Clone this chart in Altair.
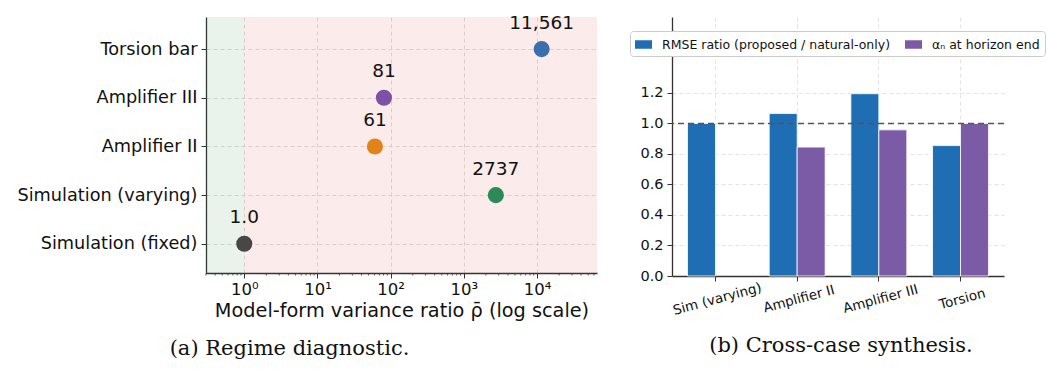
import altair as alt
import pandas as pd

# ---------------- Panel (a): regime diagnostic ----------------
cases = ["Simulation (fixed)", "Simulation (varying)", "Amplifier II", "Amplifier III", "Torsion bar"]
rho = [1.0, 2737, 61, 81, 11561]
rho_text = ["1.0", "2737", "61", "81", "11,561"]
point_colors = ["#474747", "#2b8a57", "#e3821b", "#7b52a8", "#3a6fab"]

regime_names = ["natural", "model-form"]
regime_lo = [0.3, 1.0]
regime_hi = [1.0, 66000]
regime_colors = ["#2e8b3e", "#d83a3a"]

x_domain = [0.3, 66000]
x_major = [1, 10, 100, 1000, 10000]
sup = ["⁰", "¹", "²", "³", "⁴"]

# ---------------- Panel (b): cross-case synthesis ----------------
bar_cases = ["Sim (varying)", "Amplifier II", "Amplifier III", "Torsion"]
rmse_ratio = [1.0, 1.065, 1.195, 0.855]
alpha_end = [None, 0.845, 0.958, 1.0]
series_names = ["RMSE ratio (proposed / natural-only)", "αₙ at horizon end"]
series_colors = ["#1f6db3", "#7c5ba6"]
y_ticks = [0, 0.2, 0.4, 0.6, 0.8, 1.0, 1.2]
ref_line = [1.0]

W1, H1 = 391, 256
W2, H2 = 332, 259
FONT = "DejaVu Sans"

# minor tick positions for the log axis
minor = []
for e in range(-1, 5):
    for m in range(2, 10):
        v = m * 10 ** e
        if x_domain[0] <= v <= x_domain[1]:
            minor.append(v)

df_pts = pd.DataFrame({"case": cases, "idx": list(range(len(cases))), "rho": rho, "txt": rho_text})
df_reg = pd.DataFrame({"regime": regime_names, "lo": regime_lo, "hi": regime_hi})
df_minor = pd.DataFrame({"v": minor})

xscale = alt.Scale(type="log", domain=x_domain, nice=False)
yscale = alt.Scale(domain=[-0.6, 4.66], nice=False, zero=False)

sup_expr = "[" + ",".join("'%s'" % s for s in sup) + "]"
name_expr = "[" + ",".join("'%s'" % c for c in cases) + "]"

bg = alt.Chart(df_reg).mark_rect(opacity=0.1).encode(
    x=alt.X("lo:Q", scale=xscale, axis=alt.Axis(
        values=x_major,
        labelExpr="'10' + " + sup_expr + "[round(log(datum.value)/LN10)]",
        title="Model-form variance ratio ρ̄ (log scale)",
        titleFontSize=19.3, titleFontWeight="normal", titlePadding=4,
        labelFontSize=16.5, labelPadding=3, tickSize=5,
        grid=True, gridDash=[4, 3], gridColor="#d6d6d6", gridWidth=0.8,
    )),
    x2="hi:Q",
    y=alt.value(0),
    y2=alt.value(H1),
    color=alt.Color("regime:N", scale=alt.Scale(domain=regime_names, range=regime_colors), legend=None),
)

minor_ticks = alt.Chart(df_minor).mark_rule(color="#333", strokeWidth=0.8).encode(
    x=alt.X("v:Q", scale=xscale),
    y=alt.value(H1),
    y2=alt.value(H1 + 2.5),
)

pts = alt.Chart(df_pts).mark_circle(size=260, opacity=1).encode(
    x=alt.X("rho:Q", scale=xscale),
    y=alt.Y("idx:Q", scale=yscale, axis=alt.Axis(
        values=list(range(len(cases))),
        labelExpr=name_expr + "[datum.value]",
        title=None, labelFontSize=17.7, labelPadding=4, tickSize=5, labelLimit=400,
        grid=True, gridDash=[4, 3], gridColor="#d6d6d6", gridWidth=0.8,
    )),
    color=alt.Color("case:N", scale=alt.Scale(domain=cases, range=point_colors), legend=None),
)

labels = alt.Chart(df_pts).mark_text(dy=-20.5, baseline="alphabetic", fontSize=18.5, color="#111", font=FONT).encode(
    x=alt.X("rho:Q", scale=xscale),
    y=alt.Y("idx:Q", scale=yscale),
    text="txt:N",
)

left = alt.layer(bg, minor_ticks, pts, labels).resolve_scale(color="independent").properties(
    width=W1, height=H1,
    title=alt.TitleParams("(a) Regime diagnostic.", orient="bottom", frame="group", dx=-112,
                          font="DejaVu Serif", fontSize=21, fontWeight="normal", color="#111", offset=17),
)

# ---------------- right panel ----------------
rows = []
for c, r, a in zip(bar_cases, rmse_ratio, alpha_end):
    rows.append({"case": c, "series": series_names[0], "value": r})
    if a is not None:
        rows.append({"case": c, "series": series_names[1], "value": a})
df_bars = pd.DataFrame(rows)

bars = alt.Chart(df_bars).mark_bar(stroke="white", strokeWidth=0.8).encode(
    x=alt.X("case:N", sort=bar_cases, scale=alt.Scale(domain=bar_cases, paddingInner=0.315, paddingOuter=0.19),
            axis=alt.Axis(title=None, labelAngle=345, labelAlign="center", labelBaseline="top",
                          labelFontSize=13.5, labelPadding=11, tickSize=5,
                          grid=True, gridDash=[4, 3], gridColor="#dcdcdc", gridWidth=0.8)),
    xOffset=alt.XOffset("series:N", scale=alt.Scale(domain=series_names, paddingInner=0.0)),
    y=alt.Y("value:Q", scale=alt.Scale(domain=[0, 1.698], nice=False),
            axis=alt.Axis(title=None, values=y_ticks, format=".1f", labelFontSize=14.5, tickSize=5,
                          labelPadding=4,
                          grid=True, gridDash=[4, 3], gridColor="#dcdcdc", gridWidth=0.8)),
    color=alt.Color("series:N", scale=alt.Scale(domain=series_names, range=series_colors),
                    legend=alt.Legend(title=None, orient="none", legendX=424, legendY=14, direction="horizontal",
                                      symbolType="M-1,-0.5H1V0.5H-1Z", symbolSize=289, symbolStrokeWidth=0,
                                      labelFontSize=12.5, labelOffset=10, columnPadding=14, labelLimit=400,
                                      padding=5, strokeColor="#cccccc", fillColor="white",
                                      cornerRadius=3, labelColor="#111")),
)

rule = alt.Chart(pd.DataFrame({"y": ref_line})).mark_rule(strokeDash=[6, 4], color="#555555", strokeWidth=1.5).encode(
    y=alt.Y("y:Q")
)

right = alt.layer(bars, rule).properties(
    width=W2, height=H2,
    title=alt.TitleParams("(b) Cross-case synthesis.", orient="bottom", frame="group", dx=3,
                          font="DejaVu Serif", fontSize=21, fontWeight="normal", color="#111", offset=18),
)

chart = alt.hconcat(left, right, spacing=42).properties(
    padding={"left": 8, "top": 5, "right": 5, "bottom": 5}
).configure_view(stroke=None).configure_axis(
    domainColor="#333333", domainWidth=1.3, tickColor="#333333", tickWidth=1,
    labelColor="#111111", titleColor="#111111", labelFont=FONT, titleFont=FONT,
).configure_legend(labelFont=FONT)

chart.save("out.html", embed_options={"renderer": "svg", "actions": False})
